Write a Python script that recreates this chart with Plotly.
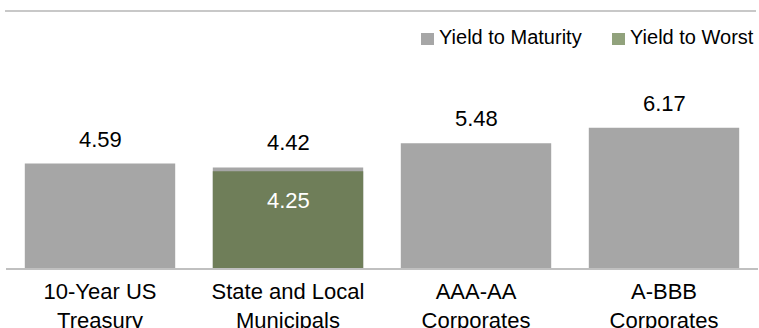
import plotly.graph_objects as go

# Yield data (%)
categories = ["10-Year US<br>Treasury", "State and Local<br>Municipals",
              "AAA-AA<br>Corporates", "A-BBB<br>Corporates"]
yield_to_maturity = [4.59, 4.42, 5.48, 6.17]
worst_categories = ["State and Local<br>Municipals"]
yield_to_worst = [4.25]

series_names = ["Yield to Maturity", "Yield to Worst"]

GRAY = "#a6a6a6"
GREEN = "#6f7e59"
GREEN_KEY = "#91a27c"
FONT = "Liberation Sans, Arial, sans-serif"
INK = "#000000"

W, H = 759, 328
ML, MR, MT, MB = 6, 1, 86, 60


def px_x(px):
    return (px - ML) / (W - ML - MR)


def px_y(py):
    return (H - MB - py) / (H - MT - MB)


fig = go.Figure()
fig.add_trace(go.Bar(x=categories, y=yield_to_maturity, name=series_names[0],
                     marker=dict(color=GRAY, line=dict(width=0)), width=0.8,
                     showlegend=False))
fig.add_trace(go.Bar(x=worst_categories, y=yield_to_worst, name=series_names[1],
                     marker=dict(color=GREEN, line=dict(width=0)), width=0.8,
                     showlegend=False))

annotations = []
for c, v in zip(categories, yield_to_maturity):
    annotations.append(dict(x=c, y=v, text=f"{v:.2f}", showarrow=False,
                            yanchor="bottom", yshift=10,
                            font=dict(family=FONT, size=22, color=INK)))
for c, v in zip(worst_categories, yield_to_worst):
    annotations.append(dict(x=c, y=v, text=f"{v:.2f}", showarrow=False,
                            yanchor="top", yshift=-15,
                            font=dict(family=FONT, size=22, color="#ffffff")))

# Legend keys
shapes = []
key_colors = [GRAY, GREEN_KEY]
key_left = [421, 612]
for name, col, kx in zip(series_names, key_colors, key_left):
    shapes.append(dict(type="rect", xref="paper", yref="paper",
                       x0=px_x(kx), x1=px_x(kx + 13), y0=px_y(45), y1=px_y(33),
                       fillcolor=col, line=dict(width=0)))
    annotations.append(dict(xref="paper", yref="paper", x=px_x(kx + 16), y=px_y(37),
                            xanchor="left", yanchor="middle", text=name,
                            showarrow=False,
                            font=dict(family=FONT, size=20, color=INK)))

# Top rule
shapes.append(dict(type="line", xref="paper", yref="paper",
                   x0=px_x(5), x1=px_x(756), y0=px_y(11), y1=px_y(11),
                   line=dict(color="#c8c8c8", width=2)))

fig.update_layout(
    width=W, height=H,
    margin=dict(l=ML, r=MR, t=MT, b=MB, autoexpand=False),
    barmode="overlay",
    plot_bgcolor="white", paper_bgcolor="white",
    annotations=annotations, shapes=shapes,
    font=dict(family=FONT, size=22, color=INK),
)
fig.update_xaxes(showline=True, linecolor="#c0c0c0", linewidth=2,
                 showgrid=False, ticks="", automargin=False,
                 ticklabelstandoff=3,
                 tickfont=dict(family=FONT, size=22, color=INK))
fig.update_yaxes(range=[0, 8], visible=False, showgrid=False, automargin=False)

fig.write_html("out.html")
